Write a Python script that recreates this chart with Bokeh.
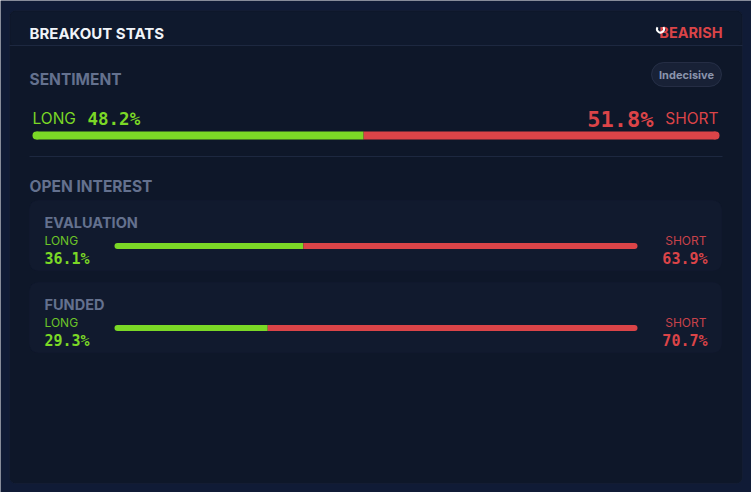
from bokeh.plotting import figure
from bokeh.models import Range1d, BoxAnnotation, ColumnDataSource
from bokeh.core.properties import value
from bokeh.embed import file_html
from bokeh.resources import INLINE

# ---- data ----
title = "BREAKOUT STATS"
signal = "BEARISH"
sentiment_label = "SENTIMENT"
sentiment_badge = "Indecisive"
sentiment_long = 48.2
sentiment_short = 51.8
oi_title = "OPEN INTEREST"
oi_groups = ["EVALUATION", "FUNDED"]
oi_long = [36.1, 29.3]
oi_short = [63.9, 70.7]

GREEN = "#7bd826"
RED = "#db4448"
GREY = "#64718e"
PAGE = "#101b36"
CARD = "#0e1729"
SUB = "#111a2e"
LINE = "#1d2840"
SANS = "Inter"
MONO = "DejaVu Sans Mono"

W, H = 751, 492
p = figure(width=W, height=H, x_range=Range1d(0, W), y_range=Range1d(H, 0),
           output_backend="svg", toolbar_location=None, min_border=0)
p.axis.visible = False
p.grid.visible = False
p.outline_line_color = None
p.background_fill_color = PAGE
p.border_fill_color = PAGE

# card
p.add_layout(BoxAnnotation(left=9, right=742, top=10, bottom=483, fill_color=CARD, fill_alpha=1,
                           line_color=LINE, line_width=1, border_radius=6, level="underlay"))
p.add_layout(BoxAnnotation(left=10, right=741, top=11, bottom=45, fill_color="#0f192d", fill_alpha=1,
                           line_color=None, border_radius=5, level="underlay"))
p.segment(x0=[9, 29], x1=[742, 722], y0=[45, 156], y1=[45, 156], line_color=LINE, line_width=1)

# sub cards
sub_tops = [200, 282]
for t in sub_tops:
    p.add_layout(BoxAnnotation(left=29, right=721, top=t, bottom=t + 70, fill_color=SUB, fill_alpha=1,
                               line_color="#131c31", line_width=1, border_radius=8, level="underlay"))

# badge
p.add_layout(BoxAnnotation(left=651, right=721, top=62, bottom=86, fill_color="#182136", fill_alpha=1,
                           line_color="#4e5a76", line_width=1, border_radius=12, level="underlay"))


def txt(x, y, t, color, size, font=SANS, style="normal", align="left", baseline="alphabetic"):
    p.text(x=[x], y=[y], text=[t], text_color=color, text_font=value(font),
           text_font_size=value(f"{size}px"), text_font_style=style, text_align=align,
           text_baseline=baseline)


# header
txt(29, 33, title, "#f1f4f9", 15, style="bold")
txt(722, 32, signal, RED, 14.5, style="bold", align="right")
p.arc(x=[660], y=[28.5], radius=3.5, start_angle=2.6, end_angle=6.9, line_color="white", line_width=2)

# sentiment
txt(29, 79, sentiment_label, GREY, 15.5, style="bold")
txt(686, 74.5, sentiment_badge, "#8a94ac", 11, style="bold", align="center", baseline="middle")
txt(32, 118, "LONG", GREEN, 15.5)
txt(87, 118, f"{sentiment_long:.1f}%", GREEN, 17.5, font=MONO, style="bold")
txt(653, 118.5, f"{sentiment_short:.1f}%", RED, 22, font=MONO, style="bold", align="right")
txt(718, 118, "SHORT", RED, 15.5, align="right")


def bar(x0, x1, y, h, long_pct):
    split = x0 + (x1 - x0) * long_pct / 100.0
    r = h / 2
    src = ColumnDataSource(dict(y=[y, y], left=[x0 + r, split], right=[split, x1 - r],
                                color=[GREEN, RED]))
    p.hbar(y="y", left="left", right="right", height=h, fill_color="color", line_color=None, source=src)
    cap = ColumnDataSource(dict(x=[x0 + r, x1 - r], y=[y, y], color=[GREEN, RED]))
    p.scatter(x="x", y="y", size=h, marker="circle", fill_color="color", line_color=None, source=cap)


bar(32, 719, 135, 8, sentiment_long)

# open interest
txt(29, 186, oi_title, GREY, 15.5, style="bold")
for i, g in enumerate(oi_groups):
    t = sub_tops[i]
    txt(44, t + 21.5, g, GREY, 14.5, style="bold")
    txt(44, t + 40, "LONG", "#6cc428", 12)
    txt(44, t + 58.5, f"{oi_long[i]:.1f}%", GREEN, 15, font=MONO, style="bold")
    txt(706, t + 40, "SHORT", "#c8424a", 12, align="right")
    txt(707, t + 58.5, f"{oi_short[i]:.1f}%", RED, 15, font=MONO, style="bold", align="right")
    bar(114, 637, t + 45.5, 6, oi_long[i])

open("out.html", "w").write(file_html(p, INLINE))
